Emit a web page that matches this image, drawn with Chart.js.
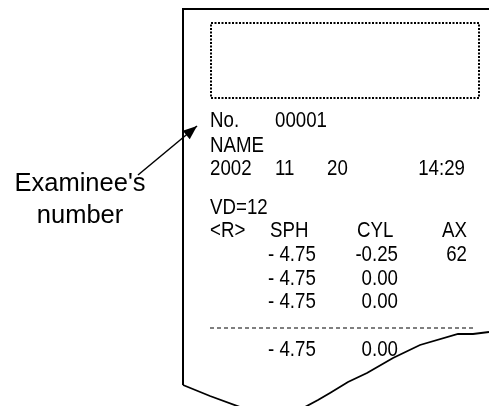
<!DOCTYPE html>
<html>
<head>
<meta charset="utf-8">
<script src="https://cdn.jsdelivr.net/npm/chart.js@4"></script>
<style>
  html, body { margin: 0; padding: 0; background: #fff; }
  #wrap { width: 489px; height: 406px; }
</style>
</head>
<body>
<div id="wrap"><canvas id="c"></canvas></div>
<script>
// Printout outline (page coordinates, y grows downward)
const paperEdge = [{x:183,y:385},{x:183,y:9},{x:489,y:9}];
const tearLeft = [{x:183,y:385},{x:210,y:396},{x:240,y:407}];
const tearRight = [{x:305,y:407},{x:318,y:400},{x:330,y:393},{x:348,y:382},{x:367,y:373},{x:393,y:358},{x:420,y:345},{x:458,y:334},{x:473,y:334},{x:489,y:332}];
const logoBox = [{x:211,y:23},{x:479,y:23},{x:479,y:98},{x:211,y:98},{x:211,y:23}];
const divider = [{x:210,y:328},{x:473,y:328}];
const pointer = [{x:138,y:175},{x:197,y:126}];

// Printed text
const headerLines = [["No.", "00001"], ["NAME"], ["2002", "11", "20", "14:29"], ["VD=12"]];
const columnHeads = ["<R>", "SPH", "CYL", "AX"];
const sphValues = ["- 4.75", "- 4.75", "- 4.75"];
const cylValues = ["-0.25", "0.00", "0.00"];
const axValues = ["62", "", ""];
const avgSph = "- 4.75";
const avgCyl = "0.00";
const calloutText = ["Examinee's", "number"];

const line = (data, extra) => Object.assign({
  data, showLine: true, borderColor: '#000', borderWidth: 1.5,
  pointRadius: 0, tension: 0, fill: false
}, extra || {});

// text + arrowhead drawn on top, positioned through the scales
const printPlugin = {
  id: 'printout',
  afterDatasetsDraw(chart) {
    const ctx = chart.ctx, sx = chart.scales.x, sy = chart.scales.y;
    const X = v => sx.getPixelForValue(v), Y = v => sy.getPixelForValue(v);
    ctx.save();
    ctx.fillStyle = '#000';

    // narrow printer font: Liberation Sans squeezed horizontally
    const squeeze = 0.85;
    function narrow(txt, x, y, align) {
      ctx.save();
      ctx.font = '22px "Liberation Sans", Arial, sans-serif';
      ctx.textBaseline = 'alphabetic';
      const w = ctx.measureText(txt).width * squeeze;
      let left = X(x);
      if (align === 'right') left -= w;
      ctx.translate(left, Y(y));
      ctx.scale(squeeze, 1);
      ctx.textAlign = 'left';
      ctx.fillText(txt, 0, 0);
      ctx.restore();
    }

    const hb = [127, 152, 175, 214];
    narrow(headerLines[0][0], 210, hb[0]);
    narrow(headerLines[0][1], 275, hb[0]);
    narrow(headerLines[1][0], 210, hb[1]);
    narrow(headerLines[2][0], 210, hb[2]);
    narrow(headerLines[2][1], 275, hb[2]);
    narrow(headerLines[2][2], 327, hb[2]);
    narrow(headerLines[2][3], 465, hb[2], 'right');
    narrow(headerLines[3][0], 210, hb[3]);

    narrow(columnHeads[0], 210, 237);
    narrow(columnHeads[1], 270, 237);
    narrow(columnHeads[2], 357, 237);
    narrow(columnHeads[3], 467, 237, 'right');

    const rows = [261, 285, 308];
    sphValues.forEach((v, i) => narrow(v, 268, rows[i]));
    cylValues.forEach((v, i) => narrow(v, 398, rows[i], 'right'));
    axValues.forEach((v, i) => { if (v) narrow(v, 467, rows[i], 'right'); });
    narrow(avgSph, 268, 356);
    narrow(avgCyl, 398, 356, 'right');

    // callout label
    ctx.font = '25.5px "Liberation Sans", Arial, sans-serif';
    ctx.textAlign = 'center';
    ctx.fillText(calloutText[0], X(80), Y(191));
    ctx.fillText(calloutText[1], X(80), Y(223));

    // arrowhead at the end of the pointer
    const a = pointer[0], b = pointer[1];
    const x1 = X(a.x), y1 = Y(a.y), x2 = X(b.x), y2 = Y(b.y);
    const ang = Math.atan2(y2 - y1, x2 - x1);
    const len = 14, half = 5.5;
    ctx.beginPath();
    ctx.moveTo(x2, y2);
    ctx.lineTo(x2 - len*Math.cos(ang) + half*Math.sin(ang), y2 - len*Math.sin(ang) - half*Math.cos(ang));
    ctx.lineTo(x2 - len*Math.cos(ang) - half*Math.sin(ang), y2 - len*Math.sin(ang) + half*Math.cos(ang));
    ctx.closePath();
    ctx.fill();
    ctx.restore();
  }
};

new Chart(document.getElementById('c'), {
  type: 'scatter',
  data: {
    datasets: [
      line(paperEdge, { borderWidth: 2 }),
      line(tearLeft, { borderWidth: 1.8 }),
      line(tearRight, { borderWidth: 1.8 }),
      line(logoBox, { borderDash: [2, 1.5], borderWidth: 2 }),
      line(divider, { borderDash: [4, 3], borderWidth: 1.2 }),
      line(pointer, { borderWidth: 1.5 })
    ]
  },
  options: {
    responsive: true,
    maintainAspectRatio: false,
    animation: false,
    layout: { padding: 0 },
    plugins: { legend: { display: false }, tooltip: { enabled: false } },
    scales: {
      x: { type: 'linear', min: 0, max: 489, display: false },
      y: { type: 'linear', min: 0, max: 406, reverse: true, display: false }
    }
  },
  plugins: [printPlugin]
});
</script>
</body>
</html>
